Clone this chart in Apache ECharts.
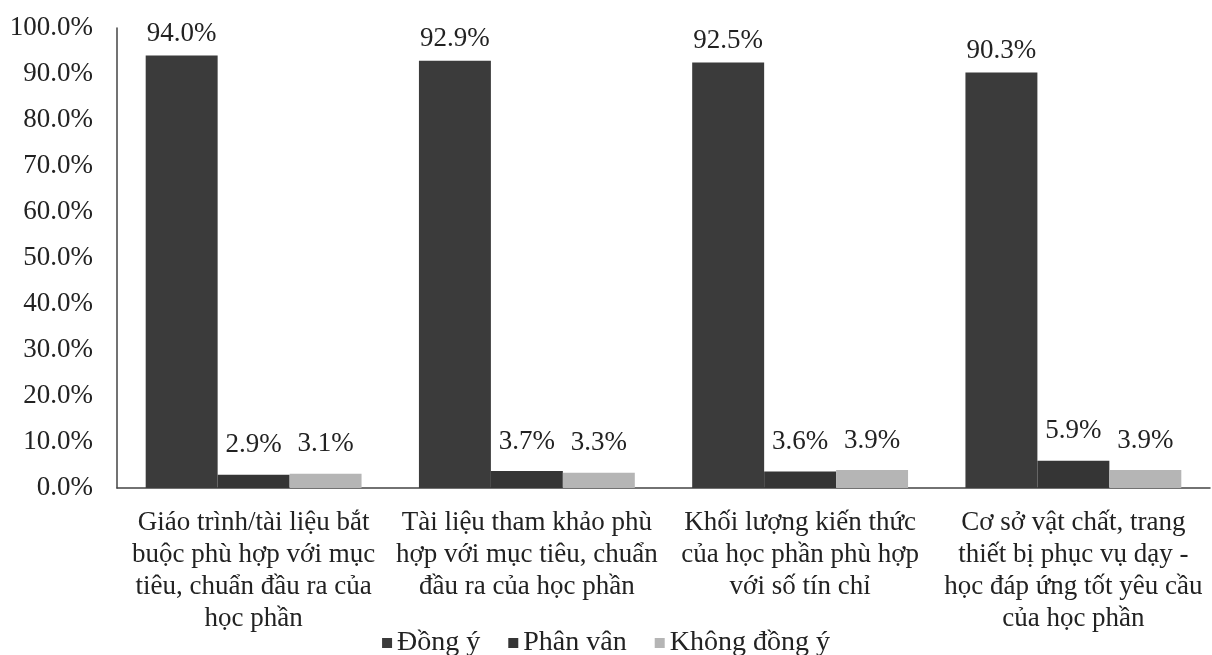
<!DOCTYPE html>
<html>
<head>
<meta charset="utf-8" />
<script src="https://cdn.jsdelivr.net/npm/echarts@6/dist/echarts.min.js"></script>
<title>Đánh giá học phần</title>
<style>
  html, body { margin: 0; padding: 0; background: #fff; }
  #chart { width: 1212px; height: 655px; }
</style>
</head>
<body>
<div id="chart"></div>
<script>
// danh mục (trục x) - xuống dòng như bản gốc
var categories = [
  'Giáo trình/tài liệu bắt\nbuộc phù hợp với mục\ntiêu, chuẩn đầu ra của\nhọc phần',
  'Tài liệu tham khảo phù\nhợp với mục tiêu, chuẩn\nđầu ra của học phần',
  'Khối lượng kiến thức\ncủa học phần phù hợp\nvới số tín chỉ',
  'Cơ sở vật chất, trang\nthiết bị phục vụ dạy -\nhọc đáp ứng tốt yêu cầu\ncủa học phần'
];
var dongY = [94.0, 92.9, 92.5, 90.3];
var phanVan = [2.9, 3.7, 3.6, 5.9];
var khongDongY = [3.1, 3.3, 3.9, 3.9];

var FONT = '"Liberation Serif", "DejaVu Serif", serif';
var FS = 27;

var chart = echarts.init(document.getElementById('chart'));

function barSeries(name, data, color, dist) {
  return {
    name: name,
    type: 'bar',
    data: data,
    barGap: '0%',
    barCategoryGap: '21%',
    itemStyle: { color: color },
    label: {
      show: true,
      position: 'top',
      distance: dist,
      color: '#222',
      fontFamily: FONT,
      fontSize: FS,
      formatter: function (p) { return p.value.toFixed(1) + '%'; }
    }
  };
}

var option = {
  backgroundColor: '#fff',
  animation: false,
  textStyle: { fontFamily: FONT },
  grid: { left: 117, right: 2, top: 28, bottom: 167 },
  legend: {
    left: 'center',
    top: 624,
    icon: 'rect',
    itemWidth: 10,
    itemHeight: 10,
    itemGap: 28,
    textStyle: { fontFamily: FONT, fontSize: 28, color: '#222' },
    data: ['Đồng ý', 'Phân vân', 'Không đồng ý']
  },
  xAxis: {
    type: 'category',
    data: categories,
    axisTick: { show: false },
    axisLine: { show: true, lineStyle: { color: '#444', width: 1.5 } },
    axisLabel: {
      interval: 0,
      margin: 19,
      color: '#222',
      fontFamily: FONT,
      fontSize: FS,
      lineHeight: 32,
      align: 'center'
    }
  },
  yAxis: {
    type: 'value',
    min: 0,
    max: 100,
    interval: 10,
    splitLine: { show: false },
    axisTick: { show: false },
    axisLine: { show: true, lineStyle: { color: '#444', width: 1.5 } },
    axisLabel: {
      margin: 24,
      color: '#222',
      fontFamily: FONT,
      fontSize: FS,
      formatter: function (v) { return v.toFixed(1) + '%'; }
    }
  },
  series: [
    barSeries('Đồng ý', dongY, '#3b3b3b', 8),
    barSeries('Phân vân', phanVan, '#353535', 16),
    barSeries('Không đồng ý', khongDongY, '#b5b5b5', 16)
  ]
};

chart.setOption(option);
</script>
</body>
</html>
